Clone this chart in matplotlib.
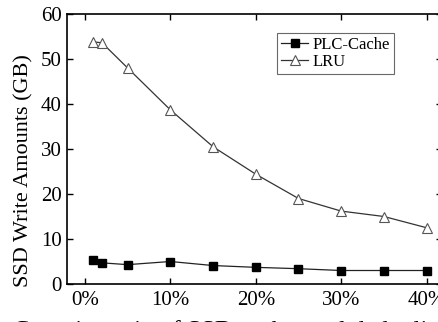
import matplotlib.pyplot as plt

plt.rcParams['font.family'] = ['Liberation Serif', 'DejaVu Serif']

# capacity ratio (%)
ratio = [1, 2, 5, 10, 15, 20, 25, 30, 35, 40]
plc_cache = [5.3, 4.7, 4.3, 5.0, 4.1, 3.7, 3.4, 3.0, 3.0, 3.0]
lru = [53.8, 53.6, 48.0, 38.7, 30.5, 24.4, 19.0, 16.2, 15.0, 12.5]
xticks = [0, 10, 20, 30, 40]
xtick_labels = ['0%', '10%', '20%', '30%', '40%']

fig = plt.figure(figsize=(4.39, 3.22), dpi=100)
# axes runs off the right edge, as in the cropped original
ax = fig.add_axes([67 / 439, 1 - 284 / 322, 375 / 439, 270 / 322])

ax.plot(ratio, plc_cache, color='#222222', lw=0.9, marker='s', ms=5.5,
        mfc='black', mec='black', label='PLC-Cache')
ax.plot(ratio, lru, color='#333333', lw=0.9, marker='^', ms=7,
        mfc='white', mec='#555555', mew=0.8, label='LRU')

ax.set_xlim(-2.1, 41.8)
ax.set_ylim(0, 60)
ax.set_xticks(xticks)
ax.set_xticklabels(xtick_labels)
ax.set_yticks(range(0, 61, 10))
ax.tick_params(direction='in', top=True, right=True, length=4, width=1,
               labelsize=15)
ax.tick_params(axis='x', pad=5)
ax.tick_params(axis='y', pad=4)
for s in ax.spines.values():
    s.set_linewidth(1.2)

ax.set_ylabel('SSD Write Amounts (GB)', fontsize=16)
ax.yaxis.set_label_coords(-0.09, 0.42)

# x label is mostly cut off by the bottom edge in the original
fig.text(13 / 439, 1 - 320 / 322, 'Capacity ratio of SSD to the total deduplicated data',
         fontsize=18, ha='left', va='top')

leg = ax.legend(loc='upper left', bbox_to_anchor=(210 / 375, 1 - 19 / 270),
                fontsize=12, frameon=True, fancybox=False, edgecolor='#444444',
                handlelength=1.6, handletextpad=0.3, borderpad=0.25,
                labelspacing=0.05, borderaxespad=0)
leg.get_frame().set_linewidth(0.8)

fig.savefig('out.png', dpi=100)
